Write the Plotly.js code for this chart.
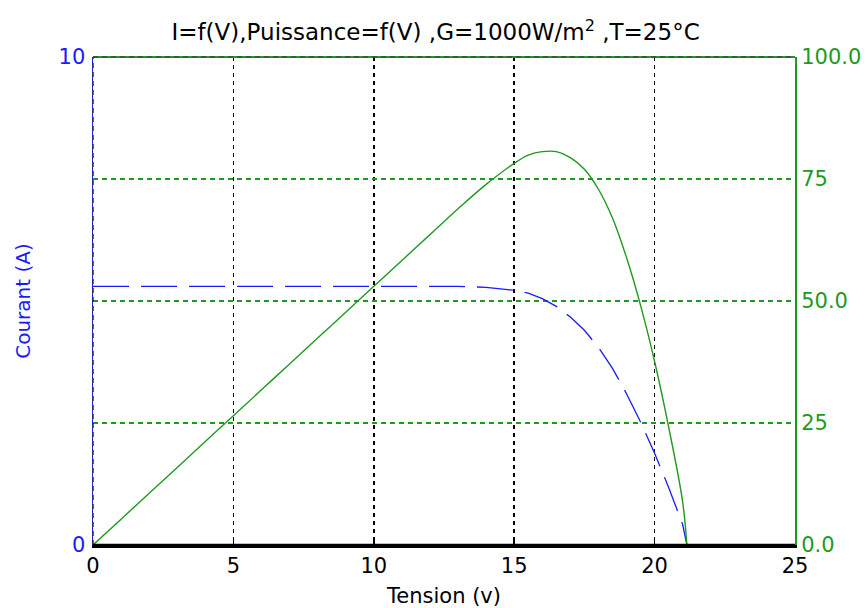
<!DOCTYPE html>
<html>
<head>
<meta charset="utf-8">
<script src="https://cdn.plot.ly/plotly-3.0.1.min.js"></script>
<style>html,body{margin:0;padding:0;background:#fff;}#chart{width:866px;height:608px;}</style>
</head>
<body>
<div id="chart"></div>
<script>
// Tension (V)
const tension = [0, 1, 2, 3, 4, 5, 6, 7, 8, 9, 10, 11, 12, 13, 14, 15, 15.5, 16, 16.5, 17, 17.5, 18, 18.5, 19, 19.5, 20, 20.5, 21, 21.15];
// Courant (A)
const courant = [5.30, 5.30, 5.30, 5.30, 5.30, 5.30, 5.30, 5.30, 5.30, 5.30, 5.30, 5.30, 5.30, 5.30, 5.28, 5.22, 5.16, 5.05, 4.89, 4.67, 4.40, 4.05, 3.62, 3.10, 2.52, 1.88, 1.18, 0.42, 0];
// Puissance (W)
const puissance = [0, 5.3, 10.6, 15.9, 21.2, 26.5, 31.8, 37.1, 42.4, 47.7, 53.0, 58.3, 63.6, 68.9, 73.9, 78.2, 79.9, 80.6, 80.6, 79.4, 77.0, 72.9, 67.0, 58.9, 49.1, 37.6, 24.2, 8.8, 0];

const xTicks = [0, 5, 10, 15, 20, 25];
const yLeftTicks = [0, 10];
const yRightTicks = [0, 25, 50, 75, 100];
const yRightLabels = ['0.0', '25', '50.0', '75', '100.0'];

const FONT = 'DejaVu Sans, Verdana, sans-serif';
const BLUE = '#1a1aff';
const GREEN = '#1e9a1e';

const traces = [
  {x: tension, y: courant, type: 'scatter', mode: 'lines', yaxis: 'y',
   line: {color: BLUE, width: 1.3, dash: '36px,12px'}, hoverinfo: 'skip'},
  {x: tension, y: puissance, type: 'scatter', mode: 'lines', yaxis: 'y2',
   line: {color: GREEN, width: 1.4, shape: 'spline'}, hoverinfo: 'skip'}
];

const layout = {
  width: 866, height: 608,
  margin: {l: 93, r: 71, t: 57, b: 63},
  paper_bgcolor: '#fff', plot_bgcolor: '#fff',
  showlegend: false,
  font: {family: FONT, size: 20, color: '#000'},
  title: {text: 'I=f(V),Puissance=f(V) ,G=1000W/m<sup>2</sup> ,T=25°C',
          font: {family: FONT, size: 23, color: '#000'},
          x: 0.503, xanchor: 'center', y: 0.947, yanchor: 'middle'},
  xaxis: {range: [0, 25], tickvals: xTicks, ticktext: xTicks.map(String),
          showgrid: true, gridcolor: '#000', griddash: '4px,4px', gridwidth: 1.5,
          zeroline: false, showline: true, linecolor: '#000', linewidth: 2.5,
          ticks: 'inside', ticklen: 6, tickcolor: '#000', tickwidth: 1.5,
          tickfont: {family: FONT, size: 21, color: '#000'},
          title: {text: 'Tension (v)', font: {family: FONT, size: 21, color: '#000'}, standoff: 12}},
  yaxis: {range: [0, 10], tickvals: yLeftTicks, ticktext: ['0', '10'],
          showgrid: false, zeroline: false, showline: true, linecolor: BLUE, linewidth: 1.5,
          ticks: '', ticklabelstandoff: 2, tickfont: {family: FONT, size: 21, color: BLUE},
          title: {text: 'Courant (A)', font: {family: FONT, size: 20, color: BLUE}, standoff: 22}},
  yaxis2: {range: [0, 100], overlaying: 'y', side: 'right', tickvals: yRightTicks, ticktext: yRightLabels,
           showgrid: true, gridcolor: GREEN, griddash: '5px,4px', gridwidth: 1.5,
           zeroline: false, showline: true, linecolor: GREEN, linewidth: 2,
           ticks: '', tickfont: {family: FONT, size: 21, color: GREEN}},
  shapes: [
    {type: 'line', xref: 'paper', yref: 'paper', x0: 0, x1: 1, y0: 1, y1: 1,
     line: {color: GREEN, width: 2}, layer: 'above'},
    {type: 'line', xref: 'paper', yref: 'paper', x0: 0, x1: 1, y0: 1, y1: 1,
     line: {color: '#444', width: 1.5, dash: '5px,4px'}, layer: 'above'},
    {type: 'line', xref: 'paper', yref: 'paper', x0: 0, x1: 0, y0: 0, y1: 1,
     line: {color: '#333', width: 1.5, dash: '5px,4px'}, layer: 'above'},
    {type: 'line', xref: 'paper', yref: 'paper', x0: 0, x1: 1, y0: 0, y1: 0,
     line: {color: '#000', width: 2.5}, layer: 'above'}
  ]
};

Plotly.newPlot('chart', traces, layout, {staticPlot: true, displayModeBar: false});
</script>
</body>
</html>
